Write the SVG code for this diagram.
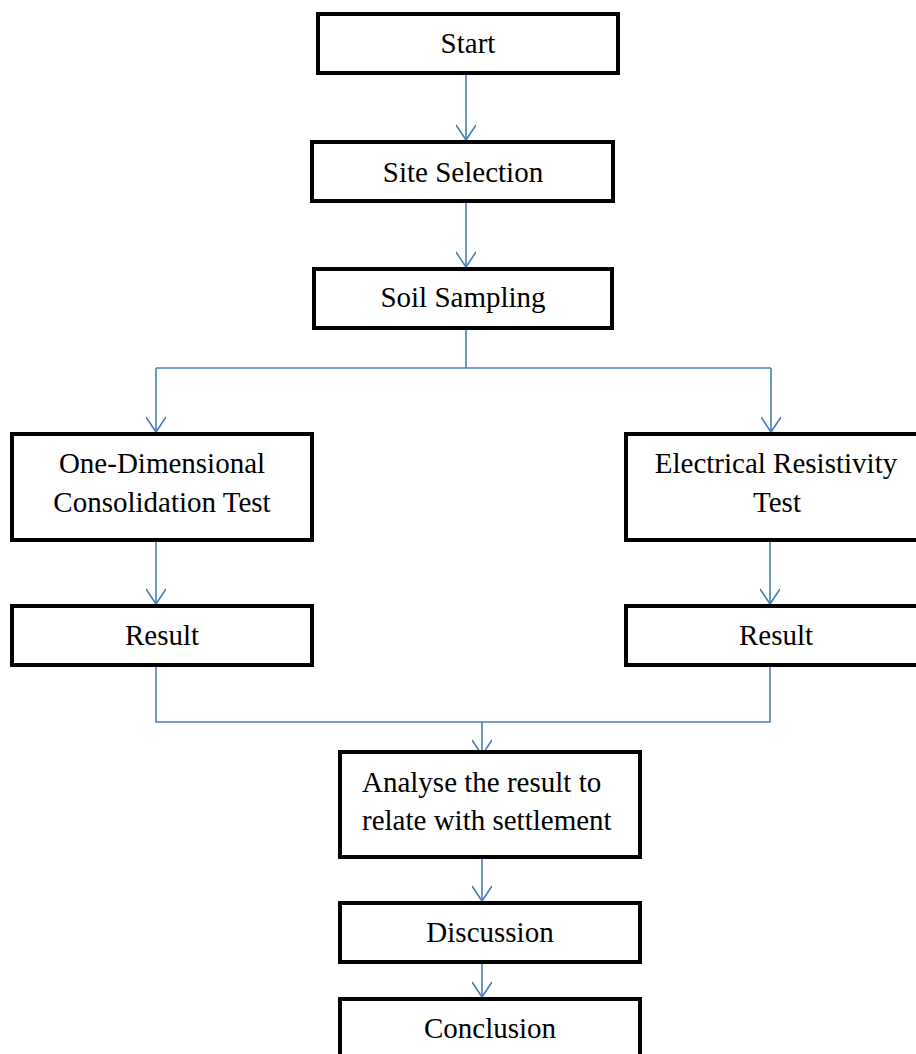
<svg xmlns="http://www.w3.org/2000/svg" width="916" height="1054" viewBox="0 0 916 1054">
<style>
.box{fill:#fff;stroke:#000;stroke-width:4}
.t{font-family:"Liberation Serif","Times New Roman",serif;font-size:29px;fill:#000;text-anchor:middle}
.c{fill:none;stroke:#4a7ebb;stroke-width:1.6}
</style>
<defs>
<marker id="ah" markerUnits="userSpaceOnUse" markerWidth="24" markerHeight="20" refX="20" refY="10" orient="auto" viewBox="0 0 24 20">
<path d="M5,0 L20,10 L5,20" fill="none" stroke="#4a7ebb" stroke-width="1.6"/>
</marker>
</defs>
<rect width="916" height="1054" fill="#fff"/>
<g id="connectors">
<line class="c" x1="466" y1="75" x2="466" y2="140" marker-end="url(#ah)"/>
<line class="c" x1="466" y1="203" x2="466" y2="267" marker-end="url(#ah)"/>
<polyline class="c" points="466,330 466,368"/>
<polyline class="c" points="156,368 771,368"/>
<line class="c" x1="156" y1="368" x2="156" y2="432" marker-end="url(#ah)"/>
<line class="c" x1="771" y1="368" x2="771" y2="432" marker-end="url(#ah)"/>
<line class="c" x1="156" y1="542" x2="156" y2="604" marker-end="url(#ah)"/>
<line class="c" x1="770" y1="542" x2="770" y2="604" marker-end="url(#ah)"/>
<polyline class="c" points="156,667 156,722 770,722 770,667"/>
<line class="c" x1="482" y1="722" x2="482" y2="755" marker-end="url(#ah)"/>
<line class="c" x1="482" y1="859" x2="482" y2="901" marker-end="url(#ah)"/>
<line class="c" x1="482" y1="964" x2="482" y2="997" marker-end="url(#ah)"/>
</g>
<g id="start"><rect class="box" x="318" y="14" width="300" height="59"/><text class="t" x="468" y="53">Start</text></g>
<g id="site"><rect class="box" x="312" y="142" width="301" height="59"/><text class="t" x="463" y="182">Site Selection</text></g>
<g id="soil"><rect class="box" x="314" y="269" width="298" height="59"/><text class="t" x="463" y="307">Soil Sampling</text></g>
<g id="oned"><rect class="box" x="12" y="434" width="300" height="106"/><text class="t" x="162" y="473">One-Dimensional</text><text class="t" x="162" y="512">Consolidation Test</text></g>
<g id="elec"><rect class="box" x="626" y="434" width="300" height="106"/><text class="t" x="776" y="473">Electrical Resistivity</text><text class="t" x="777" y="512">Test</text></g>
<g id="result1"><rect class="box" x="12" y="606" width="300" height="59"/><text class="t" x="162" y="645">Result</text></g>
<g id="result2"><rect class="box" x="626" y="606" width="300" height="59"/><text class="t" x="776" y="645">Result</text></g>
<g id="analyse"><rect class="box" x="340" y="752" width="300" height="105"/><text class="t" x="362" y="792" style="text-anchor:start">Analyse the result to</text><text class="t" x="362" y="830" style="text-anchor:start">relate with settlement</text></g>
<g id="discussion"><rect class="box" x="340" y="903" width="300" height="59"/><text class="t" x="490" y="942">Discussion</text></g>
<g id="conclusion"><rect class="box" x="340" y="999" width="300" height="70"/><text class="t" x="490" y="1038">Conclusion</text></g>
</svg>
